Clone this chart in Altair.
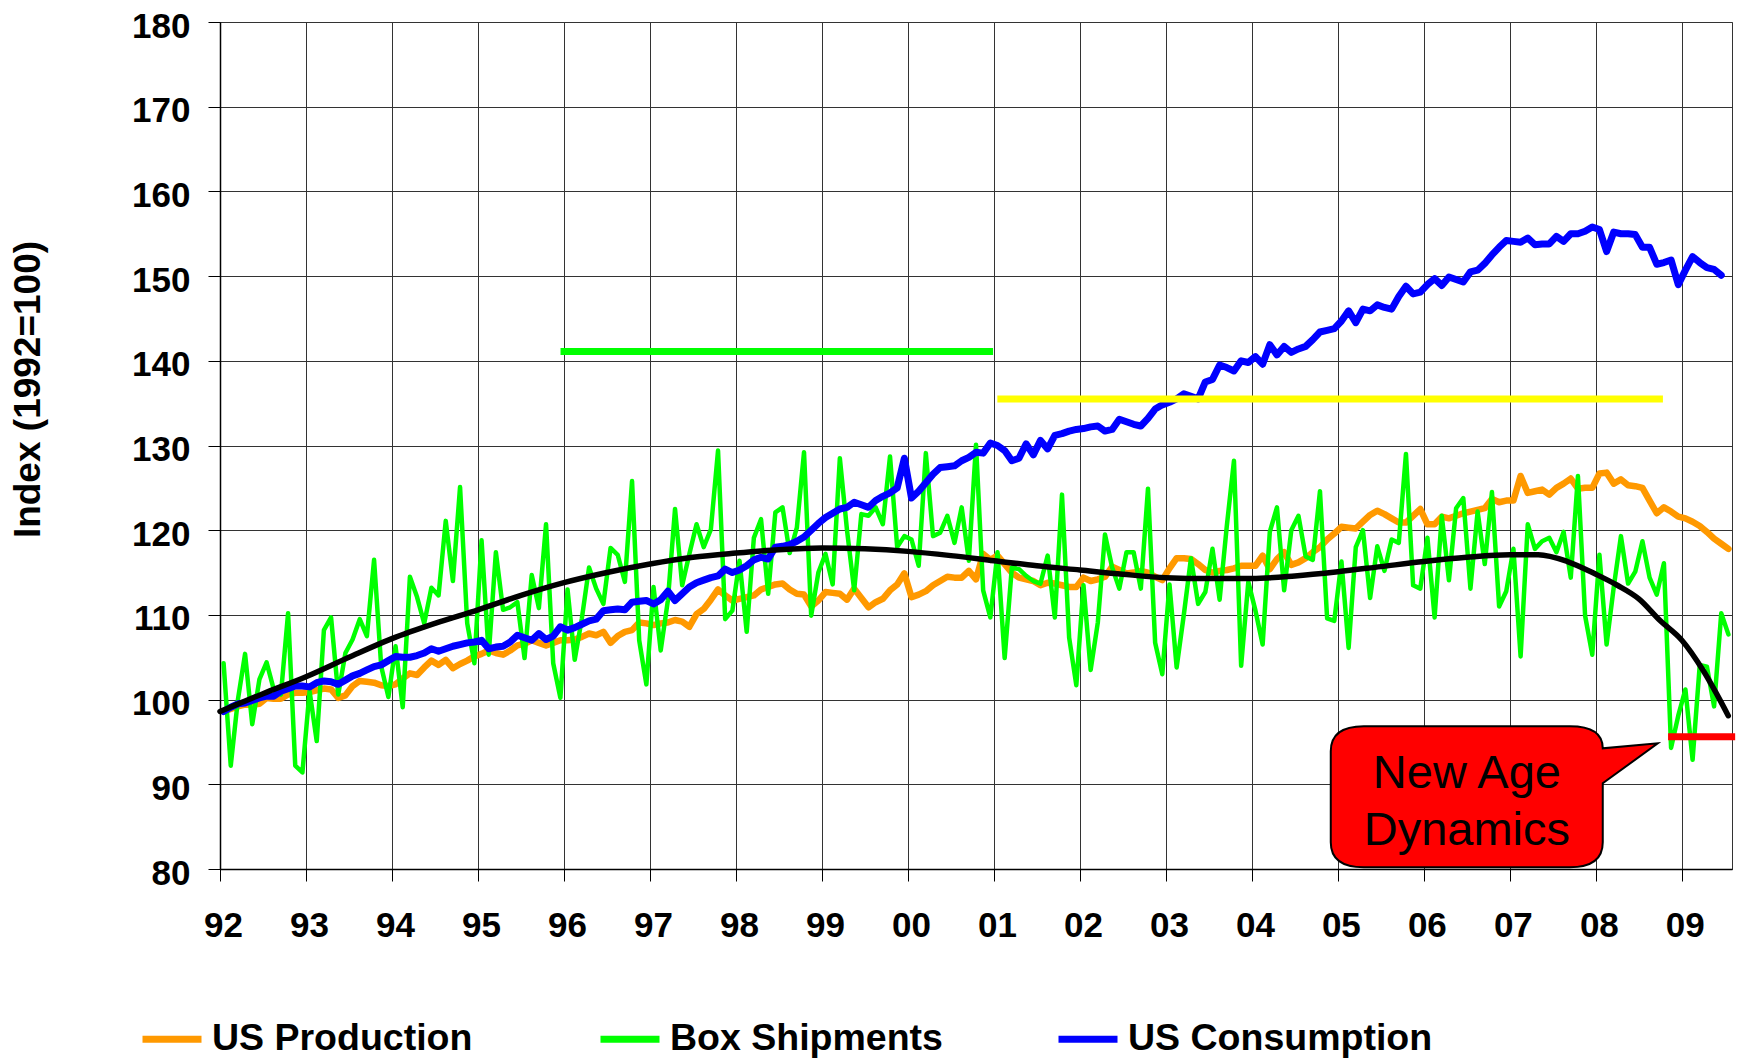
import altair as alt
import pandas as pd

# ---------------------------------------------------------------- data
YEAR_TICKS = list(range(1992, 2010))
INDEX_TICKS = list(range(80, 181, 10))

SERIES = ["US Production", "Box Shipments", "US Consumption"]
SERIES_COLORS = ["#FF9900", "#00FF00", "#0000FF"]

# Monthly index values (1992=100), January 1992 onwards
us_production = [
    98.6, 98.9, 99.2, 99.4, 99.4, 99.5, 100.2, 100.1, 100.1, 100.6, 100.8, 100.8,
    100.9, 101.1, 101.3, 101.2, 100.2, 100.5, 101.6, 102.2, 102.1, 102.0, 101.7, 101.6,
    101.8, 102.5, 103.1, 102.9, 103.8, 104.6, 104.1, 104.7, 103.7, 104.2, 104.6, 105.1,
    105.4, 105.8, 105.5, 105.3, 105.8, 106.4, 106.6, 107.0, 106.7, 106.4, 106.7, 107.0,
    107.0, 107.1, 107.4, 107.8, 107.6, 108.0, 106.7, 107.5, 108.0, 108.2, 109.1, 109.0,
    108.8, 109.0, 109.1, 109.4, 109.2, 108.6, 110.1, 110.7, 111.8, 113.0, 112.3, 111.7,
    111.9, 112.1, 112.3, 113.0, 113.3, 113.6, 113.7, 113.0, 112.5, 112.4, 111.0, 111.7,
    112.7, 112.6, 112.5, 111.8, 113.1, 112.0, 110.9, 111.5, 111.9, 112.9, 113.6, 114.9,
    112.1, 112.4, 112.8, 113.5, 114.0, 114.5, 114.4, 114.4, 115.2, 114.2, 117.2, 116.5,
    117.0, 116.0, 115.0, 114.4, 114.2, 114.0, 113.5, 113.8, 113.7, 113.5, 113.3, 113.3,
    114.4, 114.0, 114.2, 114.5, 115.7, 115.3, 114.9, 115.0, 115.2, 115.0, 114.5, 114.1,
    115.5, 116.7, 116.7, 116.6, 116.0, 115.3, 115.0, 115.2, 115.3, 115.5, 115.8, 115.8,
    115.8, 117.0, 115.4, 116.6, 117.4, 115.9, 116.2, 116.7, 117.4, 118.0, 118.9, 119.6,
    120.4, 120.3, 120.2, 121.0, 121.8, 122.3, 121.9, 121.4, 120.9, 120.9, 121.7, 122.5,
    120.7, 120.7, 121.6, 121.4, 121.7, 122.0, 122.2, 122.4, 122.6, 123.7, 123.3, 123.5,
    123.5, 126.4, 124.4, 124.6, 124.8, 124.2, 125.0, 125.5, 126.1, 124.9, 125.0, 125.0,
    126.7, 126.8, 125.5, 126.0, 125.3, 125.2, 125.0, 123.5, 122.0, 122.7, 122.2, 121.6,
    121.4, 121.0, 120.5, 119.8, 119.0, 118.4, 117.8,
]

box_shipments = [
    104.3, 92.2, 100.0, 105.4, 97.1, 102.4, 104.4, 101.2, 100.6, 110.2, 92.2, 91.4,
    101.0, 95.1, 108.2, 109.7, 100.6, 105.5, 107.1, 109.5, 107.5, 116.5, 103.9, 100.3,
    106.3, 99.1, 114.5, 112.1, 109.0, 113.2, 112.3, 121.1, 114.0, 125.1, 109.0, 104.3,
    118.8, 105.3, 117.4, 110.6, 110.9, 111.5, 104.9, 114.7, 110.8, 120.7, 104.3, 100.2,
    113.0, 104.7, 109.6, 115.6, 113.1, 111.3, 117.9, 117.1, 113.9, 125.8, 107.0, 101.8,
    113.3, 105.8, 111.7, 122.5, 113.5, 117.2, 120.7, 118.0, 120.1, 129.4, 109.5, 110.5,
    116.4, 108.0, 119.1, 121.3, 112.5, 122.1, 122.7, 117.3, 120.3, 129.2, 109.9, 115.0,
    117.2, 113.6, 128.5, 120.0, 112.9, 121.9, 121.7, 122.7, 120.7, 128.7, 118.0, 119.3,
    118.9, 115.8, 129.1, 119.3, 119.7, 121.7, 118.5, 122.7, 116.4, 130.1, 112.9, 109.7,
    117.4, 104.9, 115.6, 115.4, 114.6, 114.0, 113.7, 117.0, 109.7, 124.2, 107.3, 101.7,
    113.5, 103.5, 109.1, 119.5, 115.6, 113.1, 117.4, 117.4, 113.1, 124.9, 106.7, 103.0,
    113.6, 103.8, 110.0, 116.7, 111.3, 112.7, 117.8, 111.8, 120.5, 128.2, 104.0, 113.9,
    110.5, 106.5, 119.8, 122.7, 112.9, 120.0, 121.7, 116.9, 116.5, 124.6, 109.6, 109.3,
    116.3, 106.1, 118.0, 120.0, 112.0, 118.1, 115.2, 118.9, 118.5, 129.0, 113.5, 113.1,
    119.1, 109.7, 121.7, 114.1, 122.6, 123.8, 113.1, 122.2, 116.0, 124.5, 111.0, 112.8,
    117.8, 105.1, 120.7, 117.8, 118.7, 119.1, 117.4, 119.8, 114.4, 126.4, 109.9, 105.3,
    117.1, 106.5, 113.3, 119.3, 113.7, 115.1, 118.7, 114.4, 112.4, 116.1, 94.3, 98.1,
    101.2, 92.9, 104.1, 103.9, 99.2, 110.2, 107.7,
]

us_consumption = [
    98.6, 99.1, 99.5, 99.6, 99.9, 100.2, 100.4, 100.4, 101.0, 101.3, 101.6, 101.6,
    101.5, 102.0, 102.2, 102.1, 101.8, 102.3, 102.8, 103.1, 103.5, 103.9, 104.1, 104.6,
    105.1, 105.0, 105.0, 105.2, 105.5, 106.0, 105.7, 106.0, 106.3, 106.5, 106.7, 106.8,
    107.0, 106.0, 106.2, 106.3, 106.8, 107.6, 107.3, 107.0, 107.8, 107.1, 107.5, 108.6,
    108.2, 108.5, 108.9, 109.3, 109.5, 110.5, 110.6, 110.7, 110.6, 111.5, 111.6, 111.7,
    111.3, 111.8, 112.8, 111.7, 112.5, 113.3, 113.8, 114.1, 114.4, 114.6, 115.4, 115.0,
    115.3, 115.8, 116.5, 116.8, 116.6, 118.0, 118.1, 118.3, 118.7, 119.2, 120.0, 120.8,
    121.5, 122.0, 122.5, 122.7, 123.3, 123.0, 122.7, 123.5, 124.0, 124.4, 125.0, 128.5,
    123.8, 124.6, 125.6, 126.6, 127.4, 127.5, 127.6, 128.2, 128.6, 129.2, 129.1, 130.3,
    130.0, 129.4, 128.2, 128.5, 130.2, 128.9, 130.6, 129.6, 131.2, 131.4, 131.7, 131.9,
    132.0, 132.2, 132.3, 131.7, 131.9, 133.1, 132.8, 132.5, 132.3, 133.2, 134.3, 134.8,
    135.1, 135.5, 136.1, 135.8, 135.5, 137.5, 137.8, 139.5, 139.2, 138.8, 140.0, 139.8,
    140.5, 139.6, 141.9, 140.7, 141.7, 141.0, 141.4, 141.7, 142.5, 143.4, 143.6, 143.8,
    144.7, 145.9, 144.5, 146.1, 145.9, 146.6, 146.3, 146.1, 147.6, 148.8, 147.9, 148.1,
    149.0, 149.7, 148.9, 149.9, 149.6, 149.3, 150.5, 150.7, 151.5, 152.5, 153.4, 154.2,
    154.1, 154.0, 154.5, 153.7, 153.8, 153.8, 154.7, 154.1, 155.0, 155.0, 155.3, 155.8,
    155.5, 152.9, 155.2, 155.0, 155.0, 154.9, 153.4, 153.4, 151.4, 151.6, 151.9, 149.0,
    150.7, 152.3, 151.6, 151.0, 150.8, 150.1,
]

# Smoothed box-shipment trend (black curve)
trend_t = [1992.0, 1992.5, 1993.0, 1993.5, 1994.0, 1994.5, 1995.0, 1995.5, 1996.0,
           1996.5, 1997.0, 1997.5, 1998.0, 1998.5, 1999.0, 1999.5, 2000.0, 2000.5,
           2001.0, 2001.5, 2002.0, 2002.5, 2003.0, 2003.5, 2004.0, 2004.5, 2005.0,
           2005.5, 2006.0, 2006.5, 2007.0, 2007.33, 2007.67, 2008.0, 2008.25, 2008.5,
           2008.75, 2009.0, 2009.25, 2009.54]
trend_v = [98.6, 100.7, 102.7, 105.0, 107.2, 109.0, 110.6, 112.3, 113.8,
           115.0, 116.0, 116.8, 117.3, 117.7, 117.9, 117.8, 117.5, 117.0,
           116.4, 115.8, 115.3, 114.8, 114.4, 114.3, 114.3, 114.6, 115.1,
           115.7, 116.3, 116.8, 117.1, 117.1, 116.3, 114.8, 113.5, 111.9,
           109.3, 107.0, 103.4, 98.1]

# Horizontal reference levels
band_start = [1995.96, 2001.04, 2008.84]
band_end = [2000.99, 2008.78, 2009.62]
band_level = [141.1, 135.5, 95.6]
band_color = ["#00FF00", "#FFFF00", "#FF0000"]

# Callout
callout_tip = (2008.72, 94.84)
callout_lines = ["New Age", "Dynamics"]
callout_line_t = [2006.5, 2006.5]
callout_line_v = [89.56, 82.83]


def month_centres(n):
    return [1992 + (i + 0.5) / 12 for i in range(n)]


rows = []
for name, vals in zip(SERIES, [us_production, box_shipments, us_consumption]):
    for t, v in zip(month_centres(len(vals)), vals):
        rows.append({"t": t, "v": v, "series": name})
series_df = pd.DataFrame(rows)
trend_df = pd.DataFrame({"t": trend_t, "v": trend_v})
band_df = pd.DataFrame({"t": band_start, "t2": band_end, "v": band_level, "c": band_color})
tip_df = pd.DataFrame({"t": [callout_tip[0]], "v": [callout_tip[1]]})
text_df = pd.DataFrame({"t": callout_line_t, "v": callout_line_v, "label": callout_lines})

# ---------------------------------------------------------------- encodings
FONT = "Liberation Sans"

x_enc = alt.X(
    "t:Q",
    scale=alt.Scale(domain=[1992, 2009 + 7 / 12], nice=False, zero=False),
    axis=alt.Axis(
        values=YEAR_TICKS, format="d", labelExpr="substring(datum.label, 2, 4)",
        title=None, labelPadding=27, labelOffset=3, labelFlush=False,
    ),
)
y_enc = alt.Y(
    "v:Q",
    scale=alt.Scale(domain=[80, 180], nice=False, zero=False),
    axis=alt.Axis(
        values=INDEX_TICKS, title="Index (1992=100)", labelPadding=18, labelOffset=4,
        titleFontSize=37, titleFontWeight="bold", titleColor="#000000",
        titleAngle=270, titleX=-192, titleY=367, titleAlign="center",
        titleBaseline="middle",
    ),
)

color_enc = alt.Color(
    "series:N",
    scale=alt.Scale(domain=SERIES, range=SERIES_COLORS),
    legend=alt.Legend(
        title=None, orient="none", legendX=-81, legendY=984, direction="horizontal",
        columns=3, gridAlign="all", columnPadding=69, symbolType="stroke",
        symbolSize=3481, symbolStrokeWidth=7, labelFont=FONT,
        labelFontSize=37.5, labelFontWeight="bold", labelColor="#000000",
        labelOffset=7, padding=0, labelLimit=0,
    ),
)

line_widths = {"US Production": 6.5, "Box Shipments": 4.5, "US Consumption": 7}

layers = []
for name in SERIES:
    layers.append(
        alt.Chart(series_df[series_df["series"] == name])
        .mark_line(strokeWidth=line_widths[name], strokeJoin="round", strokeCap="round")
        .encode(x=x_enc, y=y_enc, color=color_enc, order="t:Q")
    )

layers.append(
    alt.Chart(trend_df)
    .mark_line(color="#000000", strokeWidth=5.5, interpolate="monotone", strokeCap="round")
    .encode(x=x_enc, y=y_enc)
)

for i in range(len(band_df)):
    layers.append(
        alt.Chart(band_df.iloc[[i]])
        .mark_rule(color=band_df["c"].iloc[i], strokeWidth=7, clip=False)
        .encode(x=x_enc, x2="t2:Q", y=y_enc)
    )

# Speech-bubble outline, anchored at the tip of its pointer
bubble_path = (
    "M -2.94 -0.17 L -0.88 -0.17 Q -0.55 -0.17 -0.55 0.05 L 0 0 L -0.55 0.40 "
    "L -0.55 0.99 Q -0.55 1.24 -0.88 1.24 L -2.94 1.24 Q -3.27 1.24 -3.27 0.99 "
    "L -3.27 0.08 Q -3.27 -0.17 -2.94 -0.17 Z"
)
layers.append(
    alt.Chart(tip_df)
    .mark_point(shape=bubble_path, size=40000, filled=True, fill="#FF0000",
                stroke="#000000", strokeWidth=2, opacity=1)
    .encode(x=x_enc, y=y_enc)
)
layers.append(
    alt.Chart(text_df)
    .mark_text(font=FONT, fontSize=47, color="#000000",
               align="center", baseline="alphabetic")
    .encode(x=x_enc, y=y_enc, text="label:N")
)

chart = (
    alt.layer(*layers)
    .properties(
        width=1512, height=847,
        padding={"left": 220, "top": 22, "right": 17, "bottom": 194},
        autosize=alt.AutoSizeParams(type="none"),
        background="#FFFFFF",
    )
    .configure_view(stroke="#333333", strokeWidth=1)
    .configure_axis(
        labelFont=FONT, labelFontSize=35, labelFontWeight="bold", labelColor="#000000",
        titleFont=FONT, domainColor="#000000", domainWidth=1.5,
        tickColor="#000000", tickSize=12, tickWidth=1,
        gridColor="#333333", gridWidth=1, grid=True,
    )
)

chart.save("out.html", embed_options={"renderer": "svg", "actions": False})
